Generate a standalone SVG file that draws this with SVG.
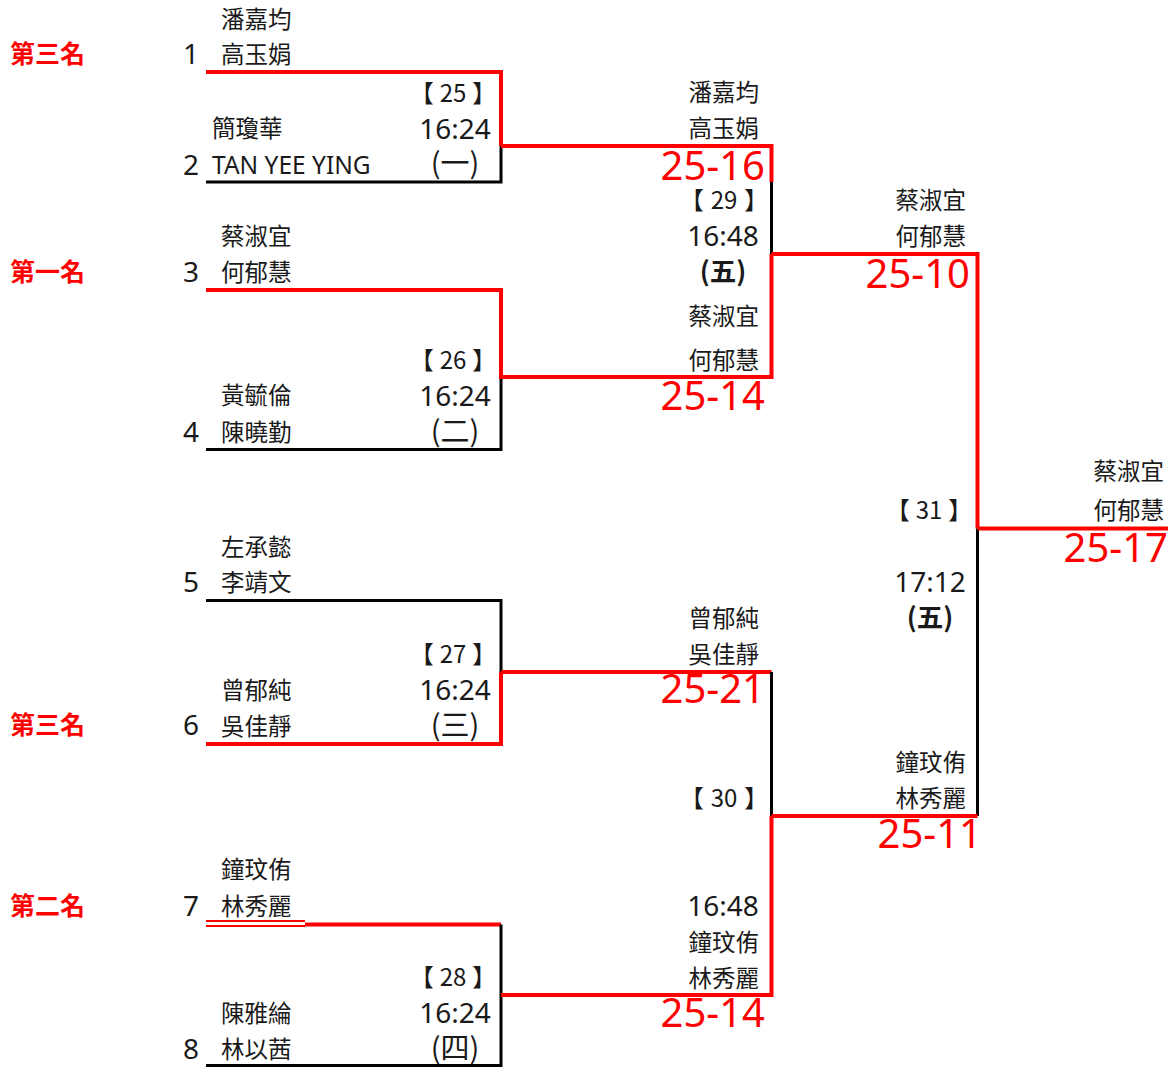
<svg xmlns="http://www.w3.org/2000/svg" width="1168" height="1067" viewBox="0 0 1168 1067">
<style>
text{font-family:"Noto Sans CJK TC","Noto Sans",sans-serif;fill:#1a1a1a}
.nm{font-size:23.5px}
.lat{font-family:"Noto Sans","Noto Sans CJK TC",sans-serif;font-size:24.5px}
.sd{font-family:"Noto Sans",sans-serif;font-size:28px}
.mn{font-size:24px;text-anchor:middle}
.tm{font-family:"Noto Sans",sans-serif;font-size:28px;text-anchor:middle}
.pr{font-size:29px;text-anchor:middle}
.rd{font-size:26.5px;font-weight:bold;text-anchor:middle}
.r{text-anchor:end}
.sc{font-family:"Noto Sans",sans-serif;font-size:40px;fill:#ff0000;text-anchor:end}
.pl{font-size:25px;font-weight:bold;fill:#ff0000}
.k{stroke:#000;stroke-width:3;fill:none}
.w{stroke:#ff0000;stroke-width:4;fill:none}
</style>
<rect width="1168" height="1067" fill="#fff"/>
<g id="connectors">
<path class="w" d="M206 72H501V146"/>
<path class="k" d="M501 146V182H206"/>
<path class="w" d="M206 290H501V379"/>
<path class="k" d="M501 379V449.5H206"/>
<path class="k" d="M206 600.5H501V672"/>
<path class="w" d="M501 672V744H206"/>
<line x1="206" y1="921" x2="305" y2="921" stroke="#ff0000" stroke-width="2"/>
<line x1="206" y1="926" x2="305" y2="926" stroke="#ff0000" stroke-width="2"/>
<path class="w" d="M305 924.5H501"/>
<path class="k" d="M501 924.5V1065.5H206" stroke-width="2"/>
<path class="w" d="M501 146H771.5V182"/>
<path class="k" d="M771.5 182V254"/>
<path class="w" d="M771.5 254V377H501"/>
<path class="w" d="M501 672H771.5"/>
<path class="k" d="M771.5 672V816"/>
<path class="w" d="M771.5 816V995H501"/>
<path class="w" d="M771.5 254H977.5V528.5"/>
<path class="k" d="M977.5 528.5V816"/>
<path class="w" d="M771.5 816H977.5"/>
<path class="w" d="M977.5 528.5H1168"/>
</g>
<g id="place-labels">
<text class="pl" x="10" y="63">第三名</text>
<text class="pl" x="10" y="281">第一名</text>
<text class="pl" x="10" y="734">第三名</text>
<text class="pl" x="10" y="915">第二名</text>
</g>
<g id="team-1"><text class="sd" x="183" y="64">1</text><text class="nm" x="221" y="28">潘嘉均</text><text class="nm" x="221" y="63">高玉娟</text></g>
<g id="team-2"><text class="sd" x="183" y="175">2</text><text class="nm" x="212" y="137">簡瓊華</text><text class="lat" x="212" y="174">TAN YEE YING</text></g>
<g id="team-3"><text class="sd" x="183" y="282">3</text><text class="nm" x="221" y="245">蔡淑宜</text><text class="nm" x="221" y="281">何郁慧</text></g>
<g id="team-4"><text class="sd" x="183" y="442">4</text><text class="nm" x="221" y="404">黃毓倫</text><text class="nm" x="221" y="441">陳曉勤</text></g>
<g id="team-5"><text class="sd" x="183" y="592">5</text><text class="nm" x="221" y="556">左承懿</text><text class="nm" x="221" y="591">李靖文</text></g>
<g id="team-6"><text class="sd" x="183" y="735">6</text><text class="nm" x="221" y="699">曾郁純</text><text class="nm" x="221" y="735">吳佳靜</text></g>
<g id="team-7"><text class="sd" x="183" y="916">7</text><text class="nm" x="221" y="878">鐘玟侑</text><text class="nm" x="221" y="915">林秀麗</text></g>
<g id="team-8"><text class="sd" x="183" y="1059">8</text><text class="nm" x="221" y="1022">陳雅綸</text><text class="nm" x="221" y="1058">林以茜</text></g>
<g id="match-25"><text class="mn" x="453" y="102">【<tspan dx="6">25</tspan><tspan dx="6">】</tspan></text><text class="tm" x="455" y="139">16:24</text><text class="pr" x="455" y="174">(一)</text></g>
<g id="match-26"><text class="mn" x="453" y="369">【<tspan dx="6">26</tspan><tspan dx="6">】</tspan></text><text class="tm" x="455" y="406">16:24</text><text class="pr" x="455" y="442">(二)</text></g>
<g id="match-27"><text class="mn" x="453" y="663">【<tspan dx="6">27</tspan><tspan dx="6">】</tspan></text><text class="tm" x="455" y="700">16:24</text><text class="pr" x="455" y="736">(三)</text></g>
<g id="match-28"><text class="mn" x="453" y="986">【<tspan dx="6">28</tspan><tspan dx="6">】</tspan></text><text class="tm" x="455" y="1023">16:24</text><text class="pr" x="455" y="1059">(四)</text></g>
<g id="match-29">
<text class="nm r" x="759" y="101">潘嘉均</text><text class="nm r" x="759" y="137">高玉娟</text>
<text class="sc" x="765" y="180">25-16</text>
<text class="mn" x="724" y="209">【<tspan dx="7">29</tspan><tspan dx="7">】</tspan></text><text class="tm" x="723" y="246">16:48</text><text class="rd" x="723" y="281">(五)</text>
<text class="nm r" x="759" y="325">蔡淑宜</text><text class="nm r" x="759" y="369">何郁慧</text>
<text class="sc" x="765" y="410">25-14</text>
</g>
<g id="match-30">
<text class="nm r" x="759" y="627">曾郁純</text><text class="nm r" x="759" y="663">吳佳靜</text>
<text class="sc" x="765" y="703">25-21</text>
<text class="mn" x="724" y="807">【<tspan dx="7">30</tspan><tspan dx="7">】</tspan></text>
<text class="tm" x="723" y="916">16:48</text>
<text class="nm r" x="759" y="951">鐘玟侑</text><text class="nm r" x="759" y="987">林秀麗</text>
<text class="sc" x="765" y="1027">25-14</text>
</g>
<g id="match-31">
<text class="nm r" x="966" y="209">蔡淑宜</text><text class="nm r" x="966" y="245">何郁慧</text>
<text class="sc" x="970" y="288">25-10</text>
<text class="mn" x="929" y="519">【<tspan dx="6">31</tspan><tspan dx="6">】</tspan></text>
<text class="tm" x="930" y="592">17:12</text><text class="rd" x="930" y="627">(五)</text>
<text class="nm r" x="966" y="771">鐘玟侑</text><text class="nm r" x="966" y="807">林秀麗</text>
<text class="sc" x="982" y="848">25-11</text>
</g>
<g id="champion">
<text class="nm r" x="1164" y="480">蔡淑宜</text><text class="nm r" x="1164" y="519">何郁慧</text>
<text class="sc" x="1168" y="562">25-17</text>
</g>
</svg>
